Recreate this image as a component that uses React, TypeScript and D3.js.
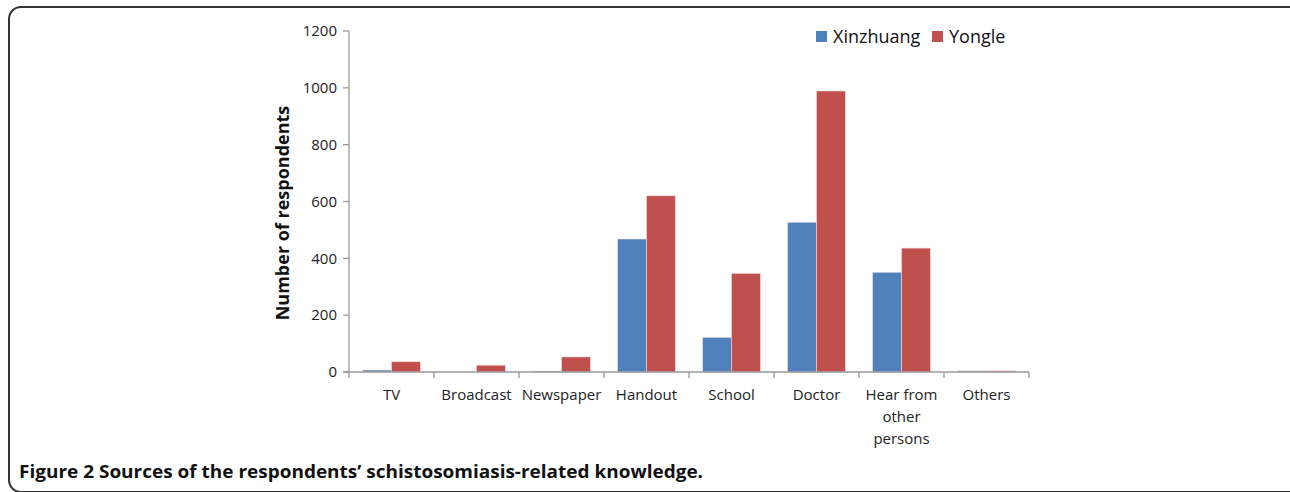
import { useEffect, useRef } from "react";
import * as d3 from "d3";

const categories = ["TV", "Broadcast", "Newspaper", "Handout", "School", "Doctor", "Hear from other persons", "Others"];
const categoryLines = [["TV"], ["Broadcast"], ["Newspaper"], ["Handout"], ["School"], ["Doctor"], ["Hear from", "other", "persons"], ["Others"]];
const xinzhuang = [7, 0, 3, 468, 122, 527, 351, 4];
const yongle = [36, 24, 53, 620, 347, 989, 436, 4];
const seriesNames = ["Xinzhuang", "Yongle"];
const yTicks = [0, 200, 400, 600, 800, 1000, 1200];

const colors = ["#4F81BD", "#C0504D"];
const font = "'Open Sans', 'Noto Sans', sans-serif";

export default function App() {
  const ref = useRef<SVGSVGElement>(null);

  useEffect(() => {
    if (!ref.current) return;
    const svg = d3.select(ref.current);
    svg.selectAll("*").remove();

    const left = 349;
    const right = 1029;
    const top = 31;
    const bottom = 372;

    // frame
    svg
      .append("rect")
      .attr("x", 9)
      .attr("y", 7)
      .attr("width", 1300)
      .attr("height", 485)
      .attr("rx", 12)
      .attr("fill", "none")
      .attr("stroke", "#333")
      .attr("stroke-width", 2);

    const x = d3.scaleBand().domain(categories).range([left, right]);
    const xs = d3.scaleBand().domain(seriesNames).range([0, x.bandwidth()]).paddingInner(0).paddingOuter(0.47);
    const y = d3.scaleLinear().domain([0, 1200]).range([bottom, top]);

    // y axis
    const yAxis = svg.append("g").attr("transform", `translate(${left},0)`);
    yAxis
      .append("line")
      .attr("y1", top)
      .attr("y2", bottom)
      .attr("stroke", "#999")
      .attr("stroke-width", 1.3);
    yTicks.forEach((t) => {
      yAxis
        .append("line")
        .attr("x1", -6)
        .attr("x2", 0)
        .attr("y1", y(t))
        .attr("y2", y(t))
        .attr("stroke", "#999")
        .attr("stroke-width", 1.3);
      yAxis
        .append("text")
        .attr("x", -12)
        .attr("y", y(t))
        .attr("dy", "0.35em")
        .attr("text-anchor", "end")
        .attr("font-family", font)
        .attr("font-size", 15)
        .attr("fill", "#222")
        .text(t);
    });

    svg
      .append("text")
      .attr("transform", `translate(289,213) rotate(-90)`)
      .attr("text-anchor", "middle")
      .attr("font-family", font)
      .attr("font-size", 18)
      .attr("font-weight", "bold")
      .attr("fill", "#111")
      .text("Number of respondents");

    // bars
    const series = [xinzhuang, yongle];
    series.forEach((vals, si) => {
      svg
        .append("g")
        .selectAll("rect")
        .data(vals)
        .enter()
        .append("rect")
        .attr("x", (_d, i) => (x(categories[i]) as number) + (xs(seriesNames[si]) as number))
        .attr("width", xs.bandwidth())
        .attr("y", (d) => y(d))
        .attr("height", (d) => bottom - y(d))
        .attr("fill", colors[si])
        .attr("stroke", "#f3dede")
        .attr("stroke-width", 0.6);
    });

    // x axis
    const xAxis = svg.append("g");
    xAxis
      .append("line")
      .attr("x1", left - 6)
      .attr("x2", right)
      .attr("y1", bottom)
      .attr("y2", bottom)
      .attr("stroke", "#999")
      .attr("stroke-width", 1.3);
    d3.range(categories.length + 1).forEach((i) => {
      const px = left + i * x.step();
      xAxis
        .append("line")
        .attr("x1", px)
        .attr("x2", px)
        .attr("y1", bottom)
        .attr("y2", bottom + 6)
        .attr("stroke", "#999")
        .attr("stroke-width", 1.3);
    });
    categories.forEach((c, i) => {
      const t = xAxis
        .append("text")
        .attr("text-anchor", "middle")
        .attr("font-family", font)
        .attr("font-size", 15)
        .attr("fill", "#222");
      categoryLines[i].forEach((line, li) => {
        t.append("tspan")
          .attr("x", (x(c) as number) + x.bandwidth() / 2)
          .attr("y", 400 + li * 22)
          .text(line);
      });
    });

    // legend
    const legendX = [816, 932];
    seriesNames.forEach((s, i) => {
      svg
        .append("rect")
        .attr("x", legendX[i])
        .attr("y", 31)
        .attr("width", 11)
        .attr("height", 11)
        .attr("fill", colors[i]);
      svg
        .append("text")
        .attr("x", legendX[i] + 17)
        .attr("y", 43)
        .attr("font-family", font)
        .attr("font-size", 18)
        .attr("fill", "#111")
        .text(s);
    });

    // caption
    svg
      .append("text")
      .attr("x", 19)
      .attr("y", 478)
      .attr("font-family", font)
      .attr("font-size", 18)
      .attr("font-weight", "bold")
      .attr("fill", "#111")
      .attr("textLength", 684)
      .attr("lengthAdjust", "spacingAndGlyphs")
      .text("Figure 2 Sources of the respondents\u2019 schistosomiasis-related knowledge.");
  }, []);

  return (
    <svg
      ref={ref}
      width={1290}
      height={492}
      style={{ position: "absolute", left: 0, top: 0, background: "#fff" }}
    />
  );
}
